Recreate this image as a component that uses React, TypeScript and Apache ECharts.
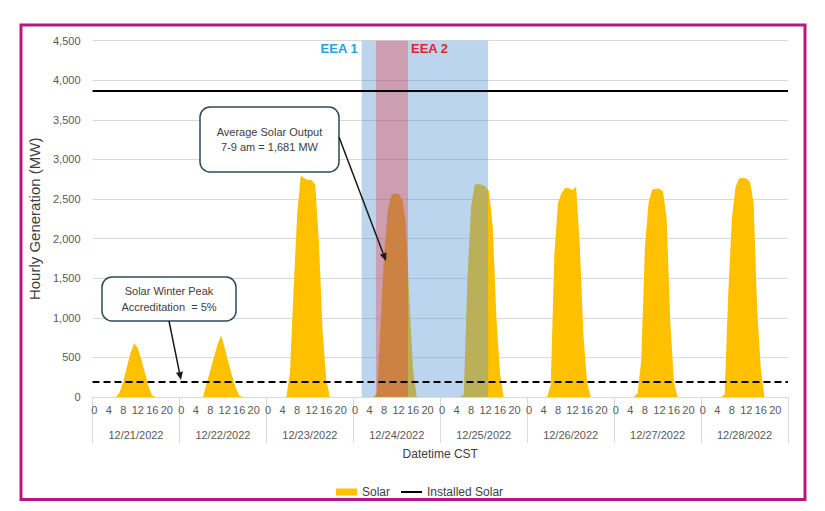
import React, { useEffect, useRef } from 'react';
import * as echarts from 'echarts';

// ---------- data ----------
const dates = ['12/21/2022', '12/22/2022', '12/23/2022', '12/24/2022', '12/25/2022', '12/26/2022', '12/27/2022', '12/28/2022'];
const hoursOfDay = [0, 1, 2, 3, 4, 5, 6, 7, 8, 9, 10, 11, 12, 13, 14, 15, 16, 17, 18, 19, 20, 21, 22, 23];

// hourly solar generation (MW), one array per day, hours 0..23
const solar1221 = [0, 0, 0, 0, 0, 0, 0, 60, 193, 380, 560, 680, 620, 470, 300, 130, 20, 0, 0, 0, 0, 0, 0, 0];
const solar1222 = [0, 0, 0, 0, 0, 0, 0, 170, 330, 500, 660, 780, 620, 440, 270, 120, 20, 0, 0, 0, 0, 0, 0, 0];
const solar1223 = [0, 0, 0, 0, 0, 0, 300, 1350, 2300, 2800, 2760, 2740, 2740, 2680, 1950, 850, 230, 0, 0, 0, 0, 0, 0, 0];
const solar1224 = [0, 0, 0, 0, 0, 0, 50, 900, 1800, 2350, 2550, 2570, 2560, 2500, 2200, 1200, 350, 0, 0, 0, 0, 0, 0, 0];
const solar1225 = [0, 0, 0, 0, 0, 0, 30, 1500, 2400, 2680, 2690, 2680, 2660, 2600, 2150, 1000, 300, 0, 0, 0, 0, 0, 0, 0];
const solar1226 = [0, 0, 0, 0, 0, 0, 150, 1800, 2450, 2580, 2640, 2640, 2610, 2660, 1930, 800, 200, 0, 0, 0, 0, 0, 0, 0];
const solar1227 = [0, 0, 0, 0, 0, 0, 50, 470, 1900, 2450, 2620, 2630, 2630, 2600, 2250, 950, 200, 0, 0, 0, 0, 0, 0, 0];
const solar1228 = [0, 0, 0, 0, 0, 0, 30, 1300, 2250, 2650, 2760, 2770, 2760, 2720, 2450, 1100, 350, 0, 0, 0, 0, 0, 0, 0];
const solarByDay = [solar1221, solar1222, solar1223, solar1224, solar1225, solar1226, solar1227, solar1228];

const installedSolarMW = 3870;
const winterPeakAccreditation = 0.05;

const yMin = 0;
const yMax = 4500;
const yInterval = 500;

// emergency energy alert windows, in hours since 12/21 00:00
const eeaNames = ['EEA 1', 'EEA 2'];
const eeaStarts = [74.3, 78.25];
const eeaEnds = [109.2, 87.1];

// ---------- styles ----------
const FONT = '"Liberation Sans", Arial, sans-serif';
const eeaFills = ['rgba(91,155,213,0.42)', 'rgba(255,0,0,0.26)'];
const eeaTextColors = ['#2AA0DA', '#E4242B'];
const eeaLabelSide = ['left', 'right'];

const categories = dates.flatMap((d) => hoursOfDay.map((h) => `${d}|${h}`));
const solarSeries = solarByDay.flat();
const totalHours = categories.length;

function arrow(x1: number, y1: number, x2: number, y2: number) {
  const dx = x2 - x1;
  const dy = y2 - y1;
  const len = Math.sqrt(dx * dx + dy * dy);
  const ux = dx / len;
  const uy = dy / len;
  const hl = 8;
  const hw = 3.5;
  const bx = x2 - ux * hl;
  const by = y2 - uy * hl;
  return [
    {
      type: 'line',
      shape: { x1, y1, x2: bx, y2: by },
      style: { stroke: '#1a1a1a', lineWidth: 1.5 },
      z: 100,
      silent: true,
    },
    {
      type: 'polygon',
      shape: {
        points: [
          [x2, y2],
          [bx - uy * hw, by + ux * hw],
          [bx + uy * hw, by - ux * hw],
        ],
      },
      style: { fill: '#1a1a1a' },
      z: 100,
      silent: true,
    },
  ];
}

function callout(x: number, y: number, w: number, h: number, text: string, lineHeight: number) {
  return [
    {
      type: 'rect',
      shape: { x, y, width: w, height: h, r: 10 },
      style: { fill: '#ffffff', stroke: '#2E4A57', lineWidth: 1.5 },
      z: 100,
      silent: true,
    },
    {
      type: 'text',
      x: x + w / 2,
      y: y + h / 2,
      style: {
        text,
        align: 'center',
        verticalAlign: 'middle',
        fill: '#404040',
        font: `11px ${FONT}`,
        lineHeight,
      },
      z: 101,
      silent: true,
    },
  ];
}

export default function App() {
  const ref = useRef<HTMLDivElement>(null);

  useEffect(() => {
    if (!ref.current) return;
    const chart = echarts.init(ref.current, undefined, { renderer: 'svg' });

    const option: any = {
      animation: false,
      backgroundColor: '#ffffff',
      textStyle: { fontFamily: FONT },
      grid: { left: 92.5, right: 37, top: 40.7, bottom: 114, containLabel: false },
      legend: {
        top: 481,
        left: 331,
        itemWidth: 21,
        itemHeight: 7,
        itemGap: 10,
        textStyle: { fontSize: 12, color: '#404040', fontFamily: FONT },
        data: [
          { name: 'Solar', icon: 'rect' },
          { name: 'Installed Solar', itemStyle: { opacity: 0 } },
        ],
        selectedMode: false,
      },
      xAxis: [
        {
          type: 'category',
          position: 'bottom',
          data: categories,
          boundaryGap: true,
          axisLine: { show: true, lineStyle: { color: '#D9D9D9', width: 1 } },
          axisTick: { show: false },
          axisLabel: {
            interval: 3,
            margin: 7,
            fontSize: 11,
            color: '#595959',
            fontFamily: FONT,
            formatter: (v: string) => v.split('|')[1],
          },
          splitLine: { show: false },
        },
        {
          type: 'category',
          position: 'bottom',
          data: dates,
          boundaryGap: true,
          axisLine: { show: false },
          axisTick: { show: true, interval: 0, length: 46, lineStyle: { color: '#D9D9D9', width: 1 } },
          axisLabel: { interval: 0, margin: 32, fontSize: 11, color: '#595959', fontFamily: FONT },
          splitLine: { show: false },
          name: 'Datetime CST',
          nameLocation: 'middle',
          nameGap: 51,
          nameTextStyle: { fontSize: 12, color: '#404040', fontFamily: FONT },
        },
        {
          type: 'value',
          position: 'top',
          min: 0,
          max: totalHours,
          show: false,
        },
      ],
      yAxis: [
        {
          type: 'value',
          min: yMin,
          max: yMax,
          interval: yInterval,
          axisLine: { show: false },
          axisTick: { show: false },
          axisLabel: {
            margin: 12,
            fontSize: 11,
            color: '#595959',
            fontFamily: FONT,
            formatter: (v: number) => v.toLocaleString('en-US'),
          },
          splitLine: { show: true, lineStyle: { color: '#D9D9D9', width: 1 } },
          name: 'Hourly Generation (MW)',
          nameLocation: 'middle',
          nameRotate: 90,
          nameGap: 34,
          nameTextStyle: { fontSize: 15, color: '#404040', fontFamily: FONT },
        },
      ],
      series: [
        {
          name: 'Solar',
          type: 'line',
          xAxisIndex: 0,
          yAxisIndex: 0,
          data: solarSeries,
          symbol: 'none',
          color: '#FFC000',
          lineStyle: { width: 0, color: '#FFC000' },
          areaStyle: { color: '#FFC000', opacity: 1 },
          z: 2,
          markLine: {
            silent: true,
            symbol: ['none', 'none'],
            label: { show: false },
            z: 6,
            data: [
              { yAxis: installedSolarMW, lineStyle: { color: '#000000', width: 2, type: 'solid' } },
              { yAxis: installedSolarMW * winterPeakAccreditation, lineStyle: { color: '#000000', width: 2, type: [7, 4] } },
            ],
          },
        },
        {
          name: 'Installed Solar',
          type: 'line',
          xAxisIndex: 0,
          yAxisIndex: 0,
          data: [],
          symbol: 'none',
          color: '#000000',
          lineStyle: { width: 2, color: '#000000' },
        },
        {
          name: 'EEA',
          type: 'custom',
          xAxisIndex: 2,
          yAxisIndex: 0,
          z: 3,
          silent: true,
          data: eeaStarts.map((s, i) => [s, eeaEnds[i]]),
          renderItem: (params: any, api: any) => {
            const i = params.dataIndex;
            const p0 = api.coord([api.value(0), yMax]);
            const p1 = api.coord([api.value(1), yMin]);
            const left = eeaLabelSide[i] === 'left';
            return {
              type: 'group',
              children: [
                {
                  type: 'rect',
                  shape: { x: p0[0], y: p0[1], width: p1[0] - p0[0], height: p1[1] - p0[1] },
                  style: { fill: eeaFills[i] },
                },
                {
                  type: 'text',
                  style: {
                    text: eeaNames[i],
                    x: left ? p0[0] - 4 : p1[0] + 3,
                    y: p0[1] + 8,
                    align: left ? 'right' : 'left',
                    verticalAlign: 'middle',
                    fill: eeaTextColors[i],
                    font: `bold 13px ${FONT}`,
                  },
                },
              ],
            };
          },
        },
      ],
      graphic: [
        {
          type: 'rect',
          shape: { x: 21, y: 25, width: 784, height: 474.5 },
          style: { fill: 'none', stroke: '#B4197F', lineWidth: 3 },
          z: 100,
          silent: true,
        },
        ...callout(200, 107, 139, 65, 'Average Solar Output\n7-9 am = 1,681 MW', 15),
        ...arrow(339, 137, 386, 261),
        ...callout(102, 277, 134, 44, 'Solar Winter Peak\nAccreditation  = 5%', 16),
        ...arrow(169, 321, 181, 380),
      ],
    };

    chart.setOption(option);
    return () => chart.dispose();
  }, []);

  return <div ref={ref} style={{ width: 825, height: 511, position: 'absolute', left: 0, top: 0 }} />;
}
